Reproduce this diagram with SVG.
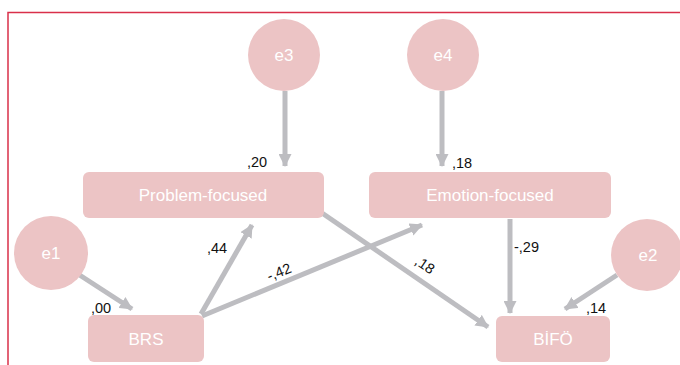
<svg xmlns="http://www.w3.org/2000/svg" width="680" height="365" viewBox="0 0 680 365">
<style>
.box{fill:#ecc4c5;}
.nt{fill:#ffffff;font-family:"Liberation Sans",Arial,sans-serif;font-size:17px;text-anchor:middle;}
.et{fill:#ffffff;font-family:"Liberation Sans",Arial,sans-serif;font-size:17px;text-anchor:middle;}
.lbl{fill:#111111;font-family:"Liberation Sans",Arial,sans-serif;font-size:14.5px;}
.edge{stroke:#bdbdc1;stroke-width:5;fill:none;marker-end:url(#ah);}
.frame{stroke:#d9304a;stroke-width:1.5;fill:none;}
</style>
<defs>
<marker id="ah" markerUnits="userSpaceOnUse" markerWidth="13" markerHeight="13" refX="12" refY="6.5" orient="auto">
<path d="M0,0 L13,6.5 L0,13 z" fill="#bdbdc1"/>
</marker>
</defs>
<rect width="680" height="365" fill="#ffffff"/>
<path class="frame" d="M8,365 L8,12.5 L680,12.5"/>
<g id="connectors">
<line class="edge" x1="285" y1="91" x2="285" y2="166"/>
<line class="edge" x1="442" y1="91" x2="442" y2="166"/>
<line class="edge" x1="78" y1="274" x2="132" y2="309"/>
<line class="edge" x1="201" y1="314" x2="252" y2="225"/>
<line class="edge" x1="202" y1="316" x2="422" y2="225"/>
<line class="edge" x1="322" y1="213" x2="488" y2="327"/>
<line class="edge" x1="510" y1="219" x2="510" y2="313"/>
<line class="edge" x1="617" y1="275" x2="565" y2="309"/>
<text class="lbl" x="247" y="167">,20</text>
<text class="lbl" x="452" y="168">,18</text>
<text class="lbl" x="91" y="313">,00</text>
<text class="lbl" x="207" y="253">,44</text>
<text class="lbl" x="279" y="277" text-anchor="middle" transform="rotate(-22 279 272)">-,42</text>
<text class="lbl" x="425" y="270" text-anchor="middle" transform="rotate(34 425 265)">,18</text>
<text class="lbl" x="514" y="252">-,29</text>
<text class="lbl" x="586" y="313">,14</text>
</g>
<g id="e3"><circle cx="284" cy="55" r="36" class="box"/><text class="et" x="284" y="61">e3</text></g>
<g id="e4"><circle cx="443" cy="55" r="36" class="box"/><text class="et" x="443" y="61">e4</text></g>
<g id="e1"><circle cx="51" cy="253" r="37" class="box"/><text class="et" x="51" y="259">e1</text></g>
<g id="e2"><circle cx="647" cy="255" r="36" class="box"/><text class="et" x="648" y="261">e2</text></g>
<g id="problem"><rect class="box" x="83" y="172" width="241" height="46" rx="6"/><text class="nt" x="203" y="201">Problem-focused</text></g>
<g id="emotion"><rect class="box" x="369" y="172" width="242" height="46" rx="6"/><text class="nt" x="490" y="201">Emotion-focused</text></g>
<g id="brs"><rect class="box" x="88" y="315" width="116" height="47" rx="6"/><text class="nt" x="146" y="345">BRS</text></g>
<g id="bifo"><rect class="box" x="496" y="316" width="114" height="46" rx="6"/><text class="nt" x="553" y="345">BİFÖ</text></g>
</svg>
